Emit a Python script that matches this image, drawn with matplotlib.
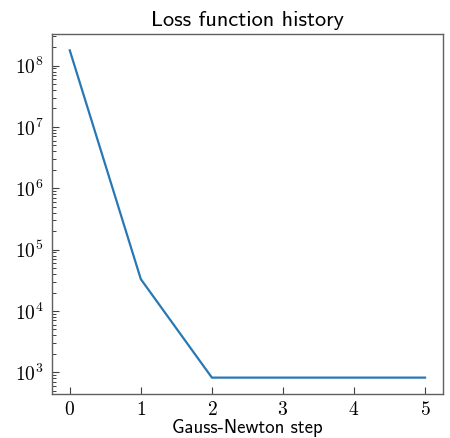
import matplotlib
matplotlib.use("Agg")
import matplotlib.pyplot as plt

# Loss value after each Gauss-Newton iteration
steps = [0, 1, 2, 3, 4, 5]
loss = [1.77e8, 3.3e4, 820, 820, 820, 820]

plt.rcParams["mathtext.fontset"] = "cm"
plt.rcParams["font.family"] = "serif"
plt.rcParams["font.serif"] = ["cmr10"]
plt.rcParams["axes.formatter.use_mathtext"] = True

fig = plt.figure(figsize=(4.5, 4.38), dpi=100)
ax = fig.add_axes([0.1156, 0.1005, 0.8684, 0.8219])

ax.plot(steps, loss, color="#2878b5", lw=1.6)
ax.set_yscale("log")

ax.set_title("Loss function history", family="cmss10", fontsize=16, pad=6)
ax.set_xlabel("Gauss-Newton step", family="cmss10", fontsize=13.5, labelpad=0)

for s in ax.spines.values():
    s.set_color("#606060")
    s.set_linewidth(1.0)

ax.tick_params(which="major", direction="in", length=5, width=0.8,
               color="#404040", labelsize=14, pad=6)
ax.tick_params(axis="x", which="major", pad=5)
ax.tick_params(which="minor", direction="in", length=3, width=0.7,
               color="#404040")
ax.tick_params(axis="x", which="minor", bottom=False)

fig.savefig("out.png", dpi=100)
